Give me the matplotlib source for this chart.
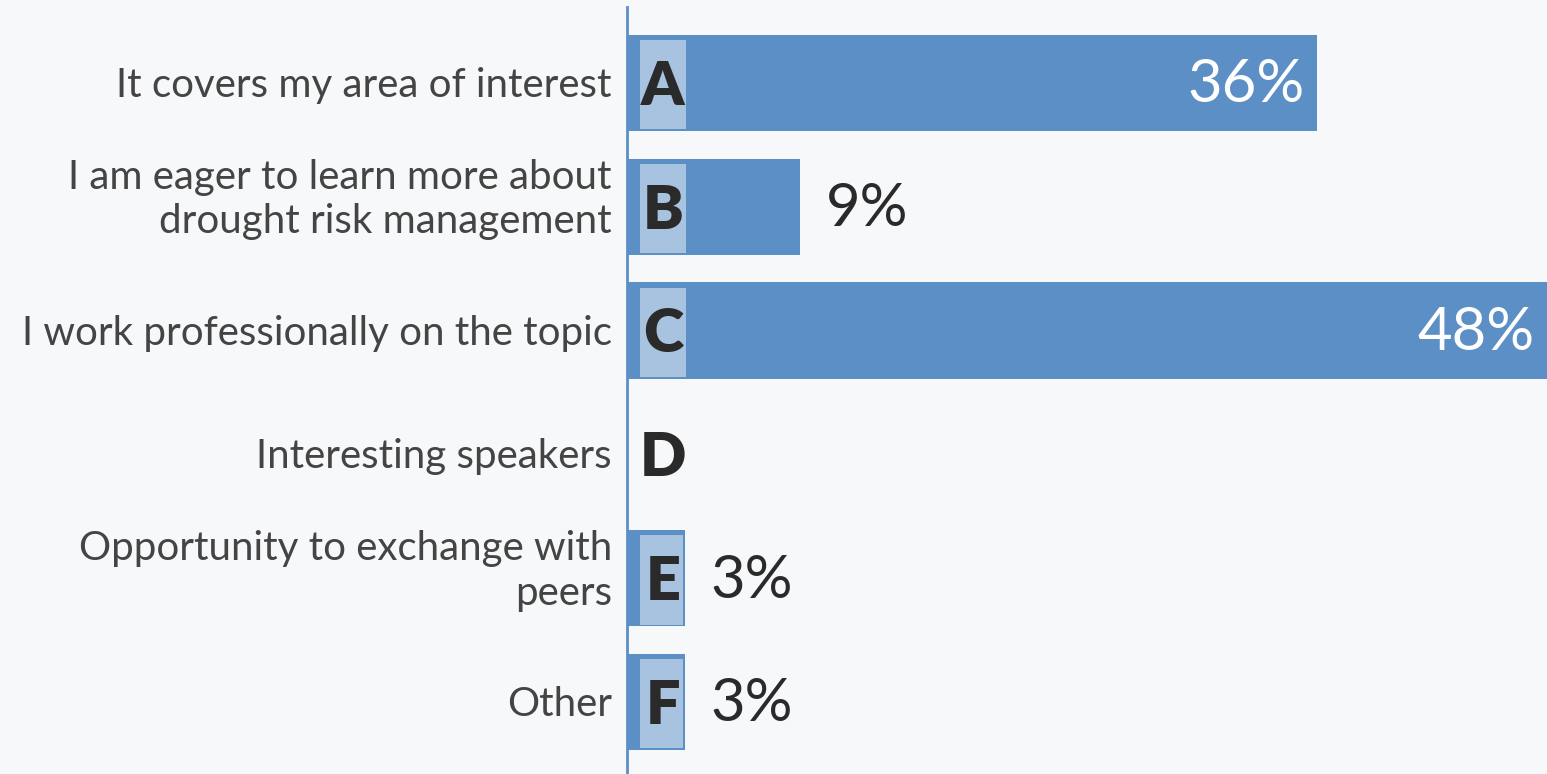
import matplotlib
matplotlib.use("Agg")
import matplotlib.pyplot as plt
from matplotlib.patches import Rectangle

categories = ["It covers my area of interest",
              "I am eager to learn more about\ndrought risk management",
              "I work professionally on the topic",
              "Interesting speakers",
              "Opportunity to exchange with\npeers",
              "Other"]
letters = ["A", "B", "C", "D", "E", "F"]
values = [36, 9, 48, 0, 3, 3]

BG = "#f7f8fa"
BAR = "#5b8fc5"
BOX = "#a8c3e0"
TXT = "#444444"
DARK = "#2a2a2a"

W, H, DPI = 1547, 774, 100
fig = plt.figure(figsize=(W / DPI, H / DPI), dpi=DPI, facecolor=BG)
left = 627 / W
top = 7
ax = fig.add_axes([left, 0, 1 - left, (H - top) / H])
ax.set_facecolor(BG)

xmax = max(values)
ax.set_xlim(0, xmax)
step = 123.8
ax.set_ylim(5 + (H - 702) / step, -(83 - top) / step)

px = xmax / (W - 627)  # data units per pixel
bar_h = 0.78
y = list(range(len(categories)))
ax.barh(y, values, height=bar_h, color=BAR, left=0, zorder=2)

font = "Lato"
for i, (lab, let, v) in enumerate(zip(categories, letters, values)):
    if v > 0:
        bx0 = 13 * px
        bw = min(46 * px, v - 15 * px)
        ax.add_patch(Rectangle((bx0, i - bar_h / 2 + 0.045), bw, bar_h - 0.06,
                               facecolor=BOX, edgecolor="none", zorder=3))
    ax.text(36 * px, i + 0.03, let, ha="center", va="center", fontsize=44,
            fontweight="heavy", color=DARK, family=font, zorder=4)
    if v > 0:
        if v >= 20:
            ax.text(v - 12 * px, i + 0.02, f"{v}%", ha="right", va="center", fontsize=43,
                    color="white", family=font, zorder=4)
        else:
            ax.text(v + 26 * px, i + 0.02, f"{v}%", ha="left", va="center", fontsize=43,
                    color=DARK, family=font, zorder=4)
    dy = -0.06 if "\n" in lab else 0.02
    ax.text(-15 * px, i + dy, lab, ha="right", va="center", fontsize=29, color=TXT,
            family=font, linespacing=1.25, clip_on=False)

for s in ["top", "right", "bottom"]:
    ax.spines[s].set_visible(False)
ax.spines["left"].set_color(BAR)
ax.spines["left"].set_linewidth(2)
ax.set_xticks([])
ax.set_yticks([])

fig.savefig("out.png", dpi=DPI, facecolor=BG)
